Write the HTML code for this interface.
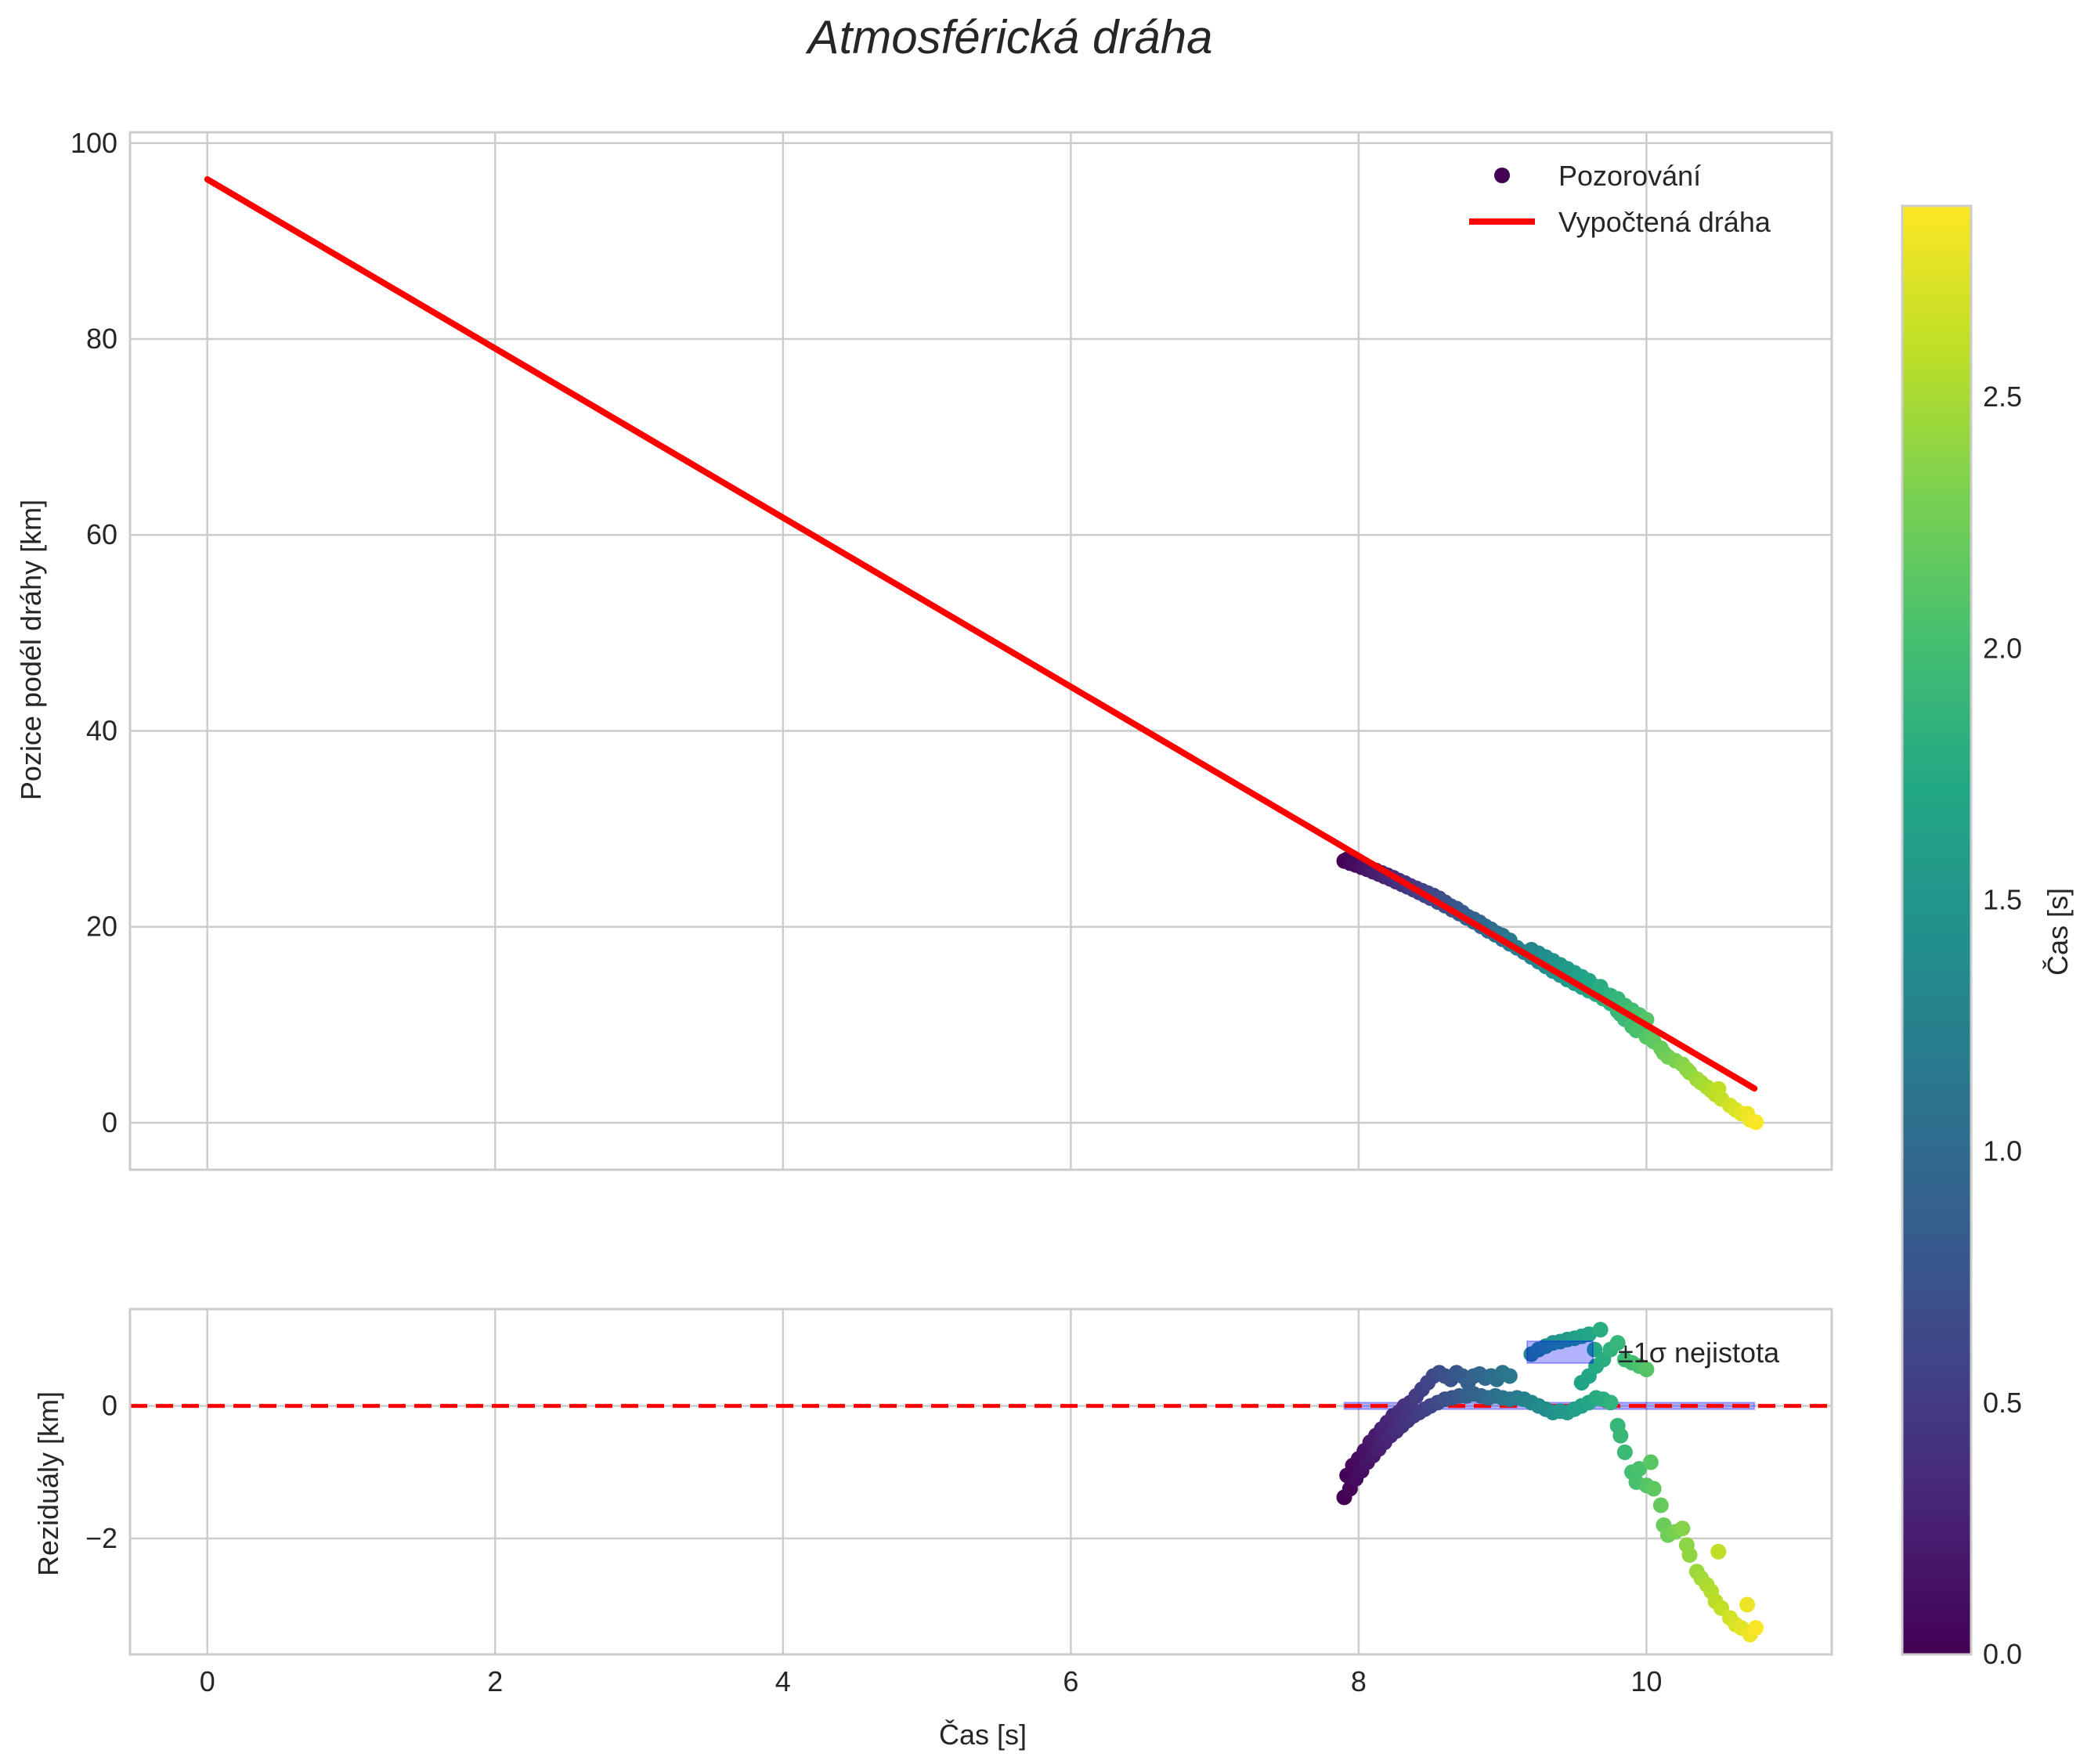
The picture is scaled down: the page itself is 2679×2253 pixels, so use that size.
<!DOCTYPE html>
<html><head><meta charset="utf-8"><title>Atmosférická dráha</title>
<style>
html,body{margin:0;padding:0;background:#fff;}
svg{display:block;font-family:"Liberation Sans",sans-serif;}
</style></head>
<body>
<svg id="chart" xmlns="http://www.w3.org/2000/svg" width="2679" height="2253" viewBox="0 0 2679 2253">
<defs>
<linearGradient id="viridis" x1="0" y1="1" x2="0" y2="0">
<stop offset="0" stop-color="#440154"/><stop offset="0.1" stop-color="#482475"/><stop offset="0.2" stop-color="#414487"/><stop offset="0.3" stop-color="#355f8d"/><stop offset="0.4" stop-color="#2a788e"/><stop offset="0.5" stop-color="#21918c"/><stop offset="0.6" stop-color="#22a884"/><stop offset="0.7" stop-color="#44bf70"/><stop offset="0.8" stop-color="#7ad151"/><stop offset="0.9" stop-color="#bddf26"/><stop offset="1" stop-color="#fde725"/>
</linearGradient>
</defs>
<text x="1290" y="68" text-anchor="middle" font-size="60" font-style="italic" fill="#262626">Atmosférická dráha</text>
<g id="topax"></g>
<g id="botax"></g>
<g id="cbar"></g>
<text transform="translate(52,830) rotate(-90)" text-anchor="middle" font-size="36" fill="#262626">Pozice podél dráhy [km]</text>
<text transform="translate(74,1895) rotate(-90)" text-anchor="middle" font-size="36" fill="#262626">Reziduály [km]</text>
<text x="1255" y="2228" text-anchor="middle" font-size="36" fill="#262626">Čas [s]</text>
<text transform="translate(2640,1190) rotate(-90)" text-anchor="middle" font-size="36" fill="#262626">Čas [s]</text>
</svg>
<script>
const fitParams = [96.3, -8.633];
const fitRange = [0, 10.75];
const xTicks = [0, 2, 4, 6, 8, 10];
const yTicksTop = [0, 20, 40, 60, 80, 100];
const yTicksBot = [-2, 0];
const cbTicks = [0.0, 0.5, 1.0, 1.5, 2.0, 2.5];
const cbTickLabels = ["0.0", "0.5", "1.0", "1.5", "2.0", "2.5"];
const times = [7.90,7.94,7.98,8.02,8.06,8.10,8.14,8.18,8.22,8.26,8.30,8.34,8.38,8.42,8.46,8.50,8.55,8.60,8.65,8.70,8.75,8.80,8.85,8.90,8.95,9.00,9.05,9.10,9.15,9.20,9.25,9.30,9.35,9.40,9.45,9.50,9.55,9.60,9.65,
7.92,7.96,8.00,8.04,8.08,8.12,8.16,8.20,8.24,8.28,8.32,8.36,8.40,8.44,8.48,8.52,8.56,8.60,8.64,8.68,8.72,8.76,8.80,8.84,8.88,8.92,8.96,9.00,9.05,9.20,9.25,9.30,9.35,9.40,9.45,9.50,9.55,9.60,9.68,9.64,
9.55,9.60,9.65,9.70,9.75,9.80,9.85,9.90,9.95,10.00,
9.70,9.75,9.80,9.82,9.85,9.90,9.93,9.95,10.00,10.03,10.05,10.10,10.12,10.15,10.20,10.25,10.28,10.30,10.35,10.38,10.42,10.45,10.48,10.50,10.52,10.58,10.62,10.66,10.70,10.72,10.76];
const residuals = [-1.38,-1.25,-1.1,-0.98,-0.85,-0.75,-0.65,-0.55,-0.45,-0.38,-0.3,-0.22,-0.15,-0.1,-0.05,0.0,0.05,0.1,0.12,0.15,0.15,0.18,0.15,0.12,0.15,0.12,0.1,0.12,0.1,0.05,0.0,-0.05,-0.1,-0.08,-0.1,-0.05,0.0,0.05,0.12,
-1.05,-0.9,-0.8,-0.68,-0.55,-0.45,-0.35,-0.25,-0.15,-0.1,0.0,0.05,0.15,0.25,0.35,0.45,0.5,0.45,0.4,0.5,0.45,0.35,0.45,0.48,0.42,0.45,0.4,0.5,0.45,0.78,0.85,0.9,0.95,0.97,1.0,1.02,1.05,1.08,1.15,0.85,
0.35,0.45,0.6,0.7,0.85,0.95,0.7,0.65,0.6,0.55,
0.1,0.05,-0.3,-0.45,-0.7,-1.0,-1.15,-0.95,-1.2,-0.85,-1.25,-1.5,-1.8,-1.95,-1.9,-1.85,-2.1,-2.25,-2.5,-2.6,-2.7,-2.8,-2.95,-2.2,-3.05,-3.2,-3.3,-3.35,-3.0,-3.45,-3.35];
const colorStart = [7.9];
const sigmaBand = [0.05];

const NS="http://www.w3.org/2000/svg";
function mk(parent,tag,attrs){const e=document.createElementNS(NS,tag);for(const k in attrs)e.setAttribute(k,attrs[k]);parent.appendChild(e);return e;}
const L=166,R=2339, xmin=-0.5375,xmax=11.2875;
const X=v=>L+(v-xmin)/(xmax-xmin)*(R-L);
const TT=169,TB=1494,tmin=-4.8,tmax=101.1;
const YT=v=>TB-(v-tmin)/(tmax-tmin)*(TB-TT);
const BT=1672,BB=2113,bmin=-3.75,bmax=1.46;
const YB=v=>BB-(v-bmin)/(bmax-bmin)*(BB-BT);
const CT=263,CB=2113,cmin=0,cmax=2.88;
const YC=v=>CB-(v-cmin)/(cmax-cmin)*(CB-CT);
const vir=["#440154","#482475","#414487","#355f8d","#2a788e","#21918c","#22a884","#44bf70","#7ad151","#bddf26","#fde725"];
function hex(h){return [1,3,5].map(i=>parseInt(h.substr(i,2),16));}
function viridis(c){let f=Math.max(0,Math.min(1,(c-cmin)/(cmax-cmin)))*10;let i=Math.min(9,Math.floor(f));let t=f-i;const a=hex(vir[i]),b=hex(vir[i+1]);return "rgb("+a.map((v,k)=>Math.round(v+(b[k]-v)*t)).join(",")+")";}
const gridCol="#cccccc";

function axes(g,ytop,ybot,Y,yt){
  mk(g,"rect",{x:L,y:ytop,width:R-L,height:ybot-ytop,fill:"#fff"});
  xTicks.forEach(v=>{const l=mk(g,"line",{x1:X(v),x2:X(v),y1:ytop,y2:ybot,stroke:gridCol,"stroke-width":2.5});
    
    });
  yt.forEach(v=>{const l=mk(g,"line",{x1:L,x2:R,y1:Y(v),y2:Y(v),stroke:gridCol,"stroke-width":2.5});
    
    
    const t=mk(g,"text",{x:L-16,y:Y(v)+12,"text-anchor":"end","font-size":36,fill:"#262626"});
    t.textContent=(v<0?"\u2212"+(-v):String(v));
    
    });
}
const gTop=document.getElementById("topax"), gBot=document.getElementById("botax"), gCb=document.getElementById("cbar");
axes(gTop,TT,TB,YT,yTicksTop);
axes(gBot,BT,BB,YB,yTicksBot);
xTicks.forEach(v=>{const t=mk(gBot,"text",{x:X(v),y:2160,"text-anchor":"middle","font-size":36,fill:"#262626"});t.textContent=v;
  
  });

const obsPos=times.map((t,i)=>fitParams[0]+fitParams[1]*t+residuals[i]);
const order=times.map((t,i)=>i).sort((a,b)=>times[a]-times[b]);
order.forEach(i=>{const c=mk(gTop,"circle",{cx:X(times[i]),cy:YT(obsPos[i]),r:10,fill:viridis(times[i]-colorStart[0])});
  
  });
const fl=mk(gTop,"line",{x1:X(fitRange[0]),y1:YT(fitParams[0]+fitParams[1]*fitRange[0]),x2:X(fitRange[1]),y2:YT(fitParams[0]+fitParams[1]*fitRange[1]),stroke:"#ff0000","stroke-width":8,"stroke-linecap":"round"});


mk(gTop,"rect",{x:L,y:TT,width:R-L,height:TB-TT,fill:"none",stroke:gridCol,"stroke-width":3});
const lg=mk(gTop,"g",{});


mk(lg,"circle",{cx:1918,cy:224,r:10,fill:"#440154"});
let t1=mk(lg,"text",{x:1990,y:237,"font-size":36,fill:"#262626"});t1.textContent="Pozorování";


mk(lg,"line",{x1:1876,x2:1960,y1:283,y2:283,stroke:"#ff0000","stroke-width":8});
let t2=mk(lg,"text",{x:1990,y:296,"font-size":36,fill:"#262626"});t2.textContent="Vypočtená dráha";



const band=mk(gBot,"rect",{x:X(colorStart[0]),y:YB(sigmaBand[0]),width:X(fitRange[1])-X(colorStart[0]),height:YB(-sigmaBand[0])-YB(sigmaBand[0]),fill:"rgba(0,0,255,0.3)",stroke:"rgba(0,0,255,0.3)","stroke-width":2});


const zl=mk(gBot,"line",{x1:L,x2:R,y1:YB(0),y2:YB(0),stroke:"#ff0000","stroke-width":5,"stroke-dasharray":"22 11"});


order.forEach(i=>{const c=mk(gBot,"circle",{cx:X(times[i]),cy:YB(residuals[i]),r:10,fill:viridis(times[i]-colorStart[0])});
  
  });
mk(gBot,"rect",{x:1950,y:1713,width:84,height:28,fill:"rgba(0,0,255,0.3)",stroke:"rgba(0,0,255,0.3)","stroke-width":2});
let t3=mk(gBot,"text",{x:2066,y:1740,"font-size":36,fill:"#262626"});t3.textContent="±1σ nejistota";


mk(gBot,"rect",{x:L,y:BT,width:R-L,height:BB-BT,fill:"none",stroke:gridCol,"stroke-width":3});

const cr=mk(gCb,"rect",{x:2429,y:CT,width:88,height:CB-CT,fill:"url(#viridis)",stroke:gridCol,"stroke-width":3});


cbTicks.forEach((v,i)=>{const t=mk(gCb,"text",{x:2532,y:YC(v)+12,"font-size":36,fill:"#262626"});t.textContent=cbTickLabels[i];
  
  });
</script>
</body></html>
